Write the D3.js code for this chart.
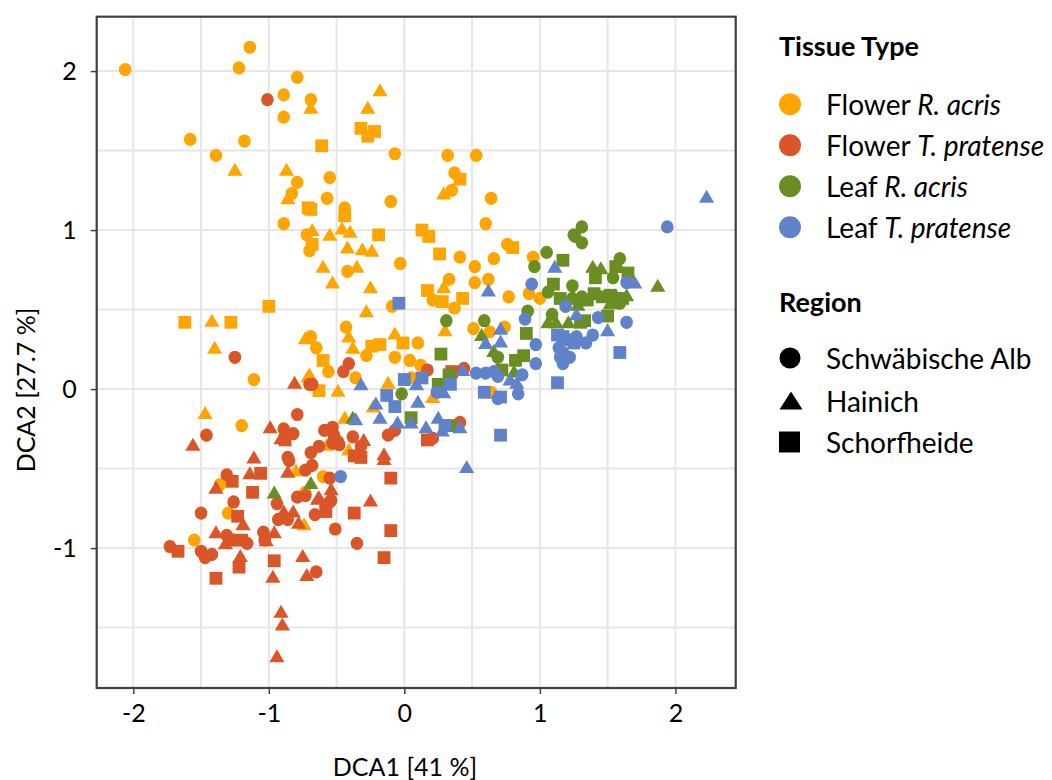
<!DOCTYPE html>
<html><head><meta charset="utf-8">
<script src="https://cdn.jsdelivr.net/npm/d3@7"></script>
<style>
body{margin:0;background:#fff}
svg{display:block}
text{font-family:Lato,"Open Sans",sans-serif;fill:#000}
</style>
</head><body>
<svg id="chart" width="1052" height="780"></svg>
<script>
// ---------- Data (DCA1, DCA2) ----------
const tissueNames = ["Flower R. acris","Flower T. pratense","Leaf R. acris","Leaf T. pratense"];
const tissueColors = ["#FFA500","#DA5628","#6B8E23","#5F82C9"];
const regionNames = ["Schwäbische Alb","Hainich","Schorfheide"];
const xTickValues = [-2,-1,0,1,2];
const yTickValues = [-1,0,1,2];
const xGridValues = [-2,-1.5,-1,-0.5,0,0.5,1,1.5,2];
const yGridValues = [-1.5,-1,-0.5,0,0.5,1,1.5,2];

// Flower R. acris
const flowerAcrisAlb = [[-2.06,2.01],[-1.14,2.15],[-1.22,2.02],[-0.79,1.96],[-0.89,1.85],[-0.69,1.82],[-0.89,1.71],[-1.58,1.57],[-1.18,1.56],[-1.39,1.47],[-0.79,1.30],[-0.83,1.23],[-0.89,1.04],[-0.72,0.97],
[-0.07,1.48],[0.32,1.47],[0.53,1.47],[0.37,1.36],[0.35,1.25],[0.64,1.20],[-0.55,1.33],[-0.57,1.20],[-0.10,1.18],[-0.44,1.14],[0.60,1.04],
[-0.70,0.87],[-0.42,0.74],[-0.03,0.79],[0.41,0.83],[0.52,0.77],[0.66,0.82],[0.76,0.91],[0.33,0.69],[0.52,0.67],[0.62,0.69],[0.77,0.58],[0.21,0.56],[0.37,0.51],[-0.09,0.52],[0.51,0.38],[0.63,0.36],[0.74,0.39],
[-0.69,0.33],[-0.65,0.26],[-0.43,0.39],[0.10,0.29],[-0.28,0.21],[-0.07,0.20],[0.04,0.18],[0.12,0.15],[-0.56,0.11],[-0.36,0.07],[0.05,0.07],[0.64,-0.02],
[-1.11,0.06],[-1.20,-0.23],[0.95,0.83],[0.92,0.60],[1.00,0.57],
[-1.30,-0.78],[-1.36,-0.60],[-1.55,-0.95],[-0.73,-0.65],[-0.60,-0.55]];
const flowerAcrisHainich = [[-1.25,1.38],[-0.87,1.38],[-0.86,1.20],[-0.69,1.77],[-0.18,1.88],[-0.27,1.77],[0.29,1.23],[-0.68,1.00],[-0.46,1.01],[-0.40,0.99],[-0.55,0.97],
[-0.42,0.89],[-0.31,0.88],[-0.24,0.87],[-0.60,0.77],[-0.35,0.77],[-0.53,0.67],[-0.25,0.64],[0.29,0.64],[-0.28,0.49],[0.30,0.37],
[-0.41,0.33],[-0.38,0.26],[-0.07,0.35],[-0.70,0.09],[-0.49,-0.01],[-0.12,0.04],[0.21,-0.05],[-0.23,-0.11],[-0.44,-0.18],[-0.57,-0.35],[-0.41,-0.38],
[-1.42,0.43],[-1.40,0.26],[-0.73,0.32],[-0.71,0.08],[-1.47,-0.15],[-0.80,-0.51],[-0.74,-0.85]];
const flowerAcrisSchorf = [[-0.71,1.14],[-0.32,1.64],[-0.27,1.59],[-0.22,1.62],[-0.61,1.53],[0.41,1.32],[-0.69,1.13],[-0.44,1.09],[-0.19,0.97],[0.13,1.00],[0.18,0.96],
[-0.68,0.91],[0.26,0.85],[0.80,0.89],[0.17,0.62],[0.28,0.55],[0.43,0.57],
[-0.24,0.27],[-0.18,0.28],[-0.01,0.29],[-0.60,0.18],[-0.63,-0.01],
[-1.00,0.52],[-1.62,0.42],[-1.28,0.42]];

// Flower T. pratense
const flowerPratAlb = [[-1.01,1.82],[-0.41,0.16],[-0.45,0.11],[0.17,0.12],[0.44,0.13],[-0.68,0.03],[0.41,-0.21],
[-0.59,-0.26],[-0.53,-0.24],[-0.52,-0.29],[-0.49,-0.33],[-0.38,-0.30],[-0.32,-0.36],[-0.63,-0.36],[-0.69,-0.40],[-0.12,-0.29],[-0.07,-0.26],[0.21,-0.31],
[-1.25,0.20],[-0.70,0.03],[-1.46,-0.29],[-0.79,-0.16],[-0.89,-0.25],[-0.82,-0.28],[-0.86,-0.43],
[-0.53,-0.34],[-0.48,-0.35],[-0.85,-0.45],[-0.73,-0.51],[-0.68,-0.48],[-0.55,-0.56],[-1.31,-0.54],[-0.94,-0.72],[-0.79,-0.68],[-0.73,-0.67],
[-0.93,-0.82],[-0.86,-0.82],[-0.66,-0.79],[-0.55,-0.71],[-1.50,-0.78],[-1.26,-0.71],[-1.04,-0.90],[-1.03,-0.95],[-1.31,-0.92],[-1.26,-0.95],[-1.16,-0.97],
[-1.73,-0.99],[-1.50,-1.02],[-1.47,-1.06],[-1.42,-1.04],[-0.51,-0.88],[-0.35,-0.97],[-0.65,-1.15],[-0.54,-0.70],[-0.58,-0.73]];
const flowerPratHainich = [[-0.81,0.04],[-0.30,-0.32],[-0.15,-0.41],[-1.56,-0.35],[-0.99,-0.24],[-0.91,-0.31],[-1.11,-0.43],[-1.14,-0.53],[-1.39,-0.62],[-0.86,-0.52],
[-0.54,-0.63],[-0.64,-0.69],[-0.89,-0.77],[-0.82,-0.77],[-0.78,-0.84],[-1.19,-0.85],[-0.96,-0.90],[-1.02,-0.95],[-1.39,-0.90],[-1.32,-0.97],[-1.21,-1.05],
[-0.97,-1.18],[-0.75,-1.05],[-0.72,-1.17],[-0.91,-1.40],[-0.90,-1.48],[-0.94,-1.68],[-0.15,-0.44],[-0.25,-0.70],[-0.63,-0.68]];
const flowerPratSchorf = [[0.35,0.11],[0.17,-0.32],[-0.88,-0.32],[-0.37,-0.42],[-0.32,-0.43],[-1.06,-0.53],[-1.27,-0.58],[-1.12,-0.65],[-0.58,-0.77],[-1.23,-0.80],
[-1.20,-0.95],[-1.67,-1.02],[-1.22,-1.12],[-1.39,-1.19],[-0.96,-1.08],[-0.10,-0.56],[-0.37,-0.78],[-0.10,-0.89],[-0.15,-1.06]];

// Leaf R. acris
const leafAcrisAlb = [[0.31,0.43],[0.59,0.43],[0.69,0.20],[-0.02,-0.03],[1.26,0.96],[1.31,0.92],[1.05,0.86],[0.96,0.77],[1.59,0.82],[1.54,0.70],[1.24,0.65],
[1.06,0.61],[1.24,0.57],[1.31,0.58],[1.59,0.54],[0.91,0.49],[1.09,0.47],[1.31,1.02],[1.25,0.97]];
const leafAcrisHainich = [[0.57,0.34],[0.66,0.24],[0.81,0.11],[-0.38,-0.18],[-0.69,-0.59],[-0.96,-0.65],[1.39,0.77],[1.45,0.76],[1.87,0.65],[1.28,0.53],
[1.56,0.59],[1.64,0.59],[1.52,0.54],[1.06,0.42],[1.12,0.42],[1.21,0.42]];
const leafAcrisSchorf = [[0.27,0.22],[0.33,0.09],[0.25,0.03],[0.05,-0.18],[0.34,-0.23],[0.82,0.18],[0.72,0.12],[1.17,0.81],[1.41,0.70],[1.56,0.77],[1.65,0.73],
[1.10,0.66],[1.15,0.57],[1.35,0.56],[1.40,0.60],[1.46,0.58],[1.52,0.59],[1.56,0.55],[1.61,0.57],[1.33,0.43],[1.30,0.42],[1.50,0.46],[0.90,0.35],[0.88,0.21]];

// Leaf T. pratense
const leafPratAlb = [[0.53,0.10],[0.60,0.10],[0.66,0.11],[0.69,0.08],[0.24,-0.02],[0.69,-0.06],[0.84,-0.03],[-0.47,-0.55],[1.64,0.67],[0.94,0.66],[1.19,0.52],
[0.89,0.44],[1.43,0.45],[1.64,0.42],[1.39,0.34],[1.34,0.29],[0.97,0.28],[1.14,0.26],[1.17,0.23],[1.15,0.20],[1.22,0.20],[1.17,0.16],[1.27,0.33],[0.97,0.16],[0.87,0.09],[1.94,1.02]];
const leafPratHainich = [[0.62,0.62],[0.71,0.38],[0.60,0.29],[0.71,0.30],[-0.32,0.03],[0.09,0.03],[0.43,0.12],[0.78,0.06],[0.83,0.04],[0.29,-0.02],[-0.21,-0.09],
[0.10,-0.08],[-0.36,-0.19],[-0.18,-0.18],[-0.05,-0.21],[0.05,-0.21],[0.25,-0.18],[0.16,-0.24],[0.28,-0.26],[0.41,-0.24],[0.46,-0.49],[1.11,0.77],[1.70,0.67],[1.27,0.47],[1.50,0.37],[2.23,1.21]];
const leafPratSchorf = [[-0.04,0.54],[0.00,0.06],[0.13,0.07],[0.34,0.03],[0.59,-0.02],[0.71,-0.05],[-0.13,-0.04],[-0.07,-0.11],[0.30,-0.23],[0.71,-0.29],
[1.13,0.34],[1.17,0.33],[1.22,0.31],[1.25,0.29],[1.59,0.23],[1.13,0.04]];

const seriesData = [
  {t:0,r:0,pts:flowerAcrisAlb},{t:0,r:1,pts:flowerAcrisHainich},{t:0,r:2,pts:flowerAcrisSchorf},
  {t:1,r:0,pts:flowerPratAlb},{t:1,r:1,pts:flowerPratHainich},{t:1,r:2,pts:flowerPratSchorf},
  {t:2,r:0,pts:leafAcrisAlb},{t:2,r:1,pts:leafAcrisHainich},{t:2,r:2,pts:leafAcrisSchorf},
  {t:3,r:0,pts:leafPratAlb},{t:3,r:1,pts:leafPratHainich},{t:3,r:2,pts:leafPratSchorf}
];

// ---------- Layout ----------
const svg = d3.select("#chart");
const plot = {left:96.7, right:735.7, top:16.7, bottom:688};
const x = d3.scaleLinear().domain([-2.27,2.445]).range([plot.left, plot.right]);
const y = d3.scaleLinear().domain([-1.88,2.342]).range([plot.bottom, plot.top]);

// grid
const g = svg.append("g");
g.selectAll("line.gx").data(xGridValues).join("line")
  .attr("x1",d=>x(d)).attr("x2",d=>x(d)).attr("y1",plot.top).attr("y2",plot.bottom)
  .attr("stroke","#E6E6E6").attr("stroke-width",2);
g.selectAll("line.gy").data(yGridValues).join("line")
  .attr("y1",d=>y(d)).attr("y2",d=>y(d)).attr("x1",plot.left).attr("x2",plot.right)
  .attr("stroke","#E6E6E6").attr("stroke-width",2);

// axes
const xAxis = svg.append("g").attr("transform",`translate(0,${plot.bottom})`)
  .call(d3.axisBottom(x).tickValues(xTickValues).tickSize(6).tickPadding(10).tickFormat(d3.format("d")));
const yAxis = svg.append("g").attr("transform",`translate(${plot.left},0)`)
  .call(d3.axisLeft(y).tickValues(yTickValues).tickSize(6).tickPadding(14).tickFormat(d3.format("d")));
[xAxis,yAxis].forEach(a=>{
  a.select(".domain").remove();
  a.selectAll(".tick line").attr("stroke","#404040").attr("stroke-width",1.5);
  a.selectAll(".tick text").attr("font-size",25).attr("font-family","Lato, sans-serif").attr("fill","#000")
   .text(d=>d<0?"-"+Math.abs(d):d);
});

// marks
const sym = {
  0:(px,py)=>`M${px-6.3},${py}a6.3,6.6 0 1,0 12.6,0a6.3,6.6 0 1,0 -12.6,0Z`,
  1:(px,py)=>`M${px},${py-7}L${px+7.6},${py+6}L${px-7.6},${py+6}Z`,
  2:(px,py)=>`M${px-6.4},${py-6.4}h12.8v12.8h-12.8Z`
};
const marks = svg.append("g");
seriesData.forEach(s=>{
  marks.append("g").selectAll("path").data(s.pts).join("path")
    .attr("d",d=>sym[s.r](x(d[0]),y(d[1])))
    .attr("fill",tissueColors[s.t]);
});

// frame
svg.append("rect").attr("x",plot.left).attr("y",plot.top)
  .attr("width",plot.right-plot.left).attr("height",plot.bottom-plot.top)
  .attr("fill","none").attr("stroke","#404040").attr("stroke-width",2.2);

// axis titles
svg.append("text").attr("x",405).attr("y",776).attr("text-anchor","middle")
  .attr("font-size",25).text("DCA1 [41 %]");
svg.append("text").attr("transform",`translate(35,390) rotate(-90)`)
  .attr("text-anchor","middle").attr("font-size",25).text("DCA2 [27.7 %]");

// legend
const lg = svg.append("g");
lg.append("text").attr("x",779).attr("y",56).attr("font-size",27).attr("font-weight","bold").text("Tissue Type");
const parts = [["Flower","R. acris"],["Flower","T. pratense"],["Leaf","R. acris"],["Leaf","T. pratense"]];
tissueNames.forEach((n,i)=>{
  const cy = 104.3 + i*41;
  lg.append("circle").attr("cx",790).attr("cy",cy).attr("r",11).attr("fill",tissueColors[i]);
  const t = lg.append("text").attr("x",826).attr("y",cy+11).attr("font-size",28);
  t.append("tspan").text(parts[i][0]+" ");
  t.append("tspan").attr("font-style","italic").text(parts[i][1]);
});
lg.append("text").attr("x",779).attr("y",312).attr("font-size",27).attr("font-weight","bold").text("Region");
const regionY = [358,401,442];
regionNames.forEach((n,i)=>{
  const cy = regionY[i];
  if(i===0) lg.append("circle").attr("cx",790).attr("cy",cy).attr("r",10.5).attr("fill","#000");
  if(i===1) lg.append("path").attr("d",`M791,${cy-9.5}L802.5,${cy+8.5}L779.5,${cy+8.5}Z`).attr("fill","#000");
  if(i===2) lg.append("rect").attr("x",779).attr("y",cy-10.5).attr("width",21).attr("height",21).attr("fill","#000");
  lg.append("text").attr("x",826).attr("y",cy+11).attr("font-size",28).text(n);
});
</script>
</body></html>
